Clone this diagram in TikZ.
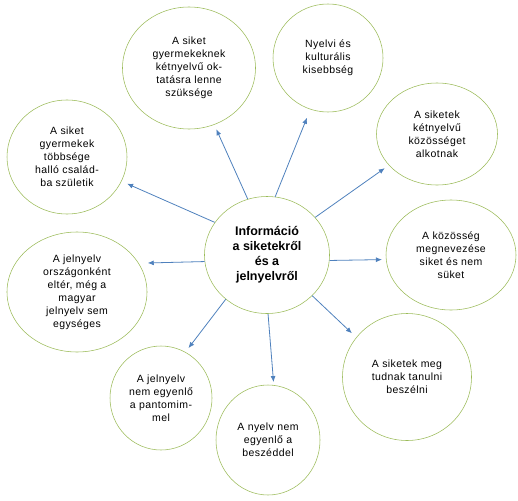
\documentclass[tikz,border=0pt]{standalone}
\usepackage{fontspec}
\setmainfont{Liberation Sans}
\usetikzlibrary{shapes.geometric, arrows.meta}
\definecolor{zold}{RGB}{155,187,89}
\definecolor{kek}{RGB}{79,129,189}
\tikzset{
  kor/.style={ellipse, draw=zold, line width=0.55pt, inner sep=0pt, align=center,
              font=\fontsize{10.5}{13}\selectfont\addfontfeatures{LetterSpace=4}},
  kozep/.style={kor, font=\fontsize{12.5}{15}\selectfont\bfseries},
  nyil/.style={-{Latex[length=6pt, width=5pt]}, kek, line width=0.8pt, shorten >=5pt}
}

\begin{document}
\begin{tikzpicture}[x=1pt, y=-1pt]
    \useasboundingbox (0,0) rectangle (518,500);
    \node[kozep, minimum width=125pt, minimum height=117pt] (info) at (267,255)
      {Információ\\a siketekről\\és a\\jelnyelvről};
    \node[kor, minimum width=133pt, minimum height=122pt] (oktatas) at (189,68)
      {A siket\\gyermekeknek\\kétnyelvű ok-\\tatásra lenne\\szüksége};
    \node[kor, minimum width=110pt, minimum height=108pt] (kisebbseg) at (328,58)
      {Nyelvi és\\kulturális\\kisebbség};
    \node[kor, minimum width=121pt, minimum height=102pt] (kozosseg) at (437,134)
      {A siketek\\kétnyelvű\\közösséget\\alkotnak};
    \node[kor, minimum width=120pt, minimum height=114pt] (csalad) at (67,157)
      {A siket\\gyermekek\\többsége\\halló család-\\ba születik};
    \node[kor, minimum width=140pt, minimum height=120pt] (orszag) at (77,292)
      {A jelnyelv\\országonként\\eltér, még a\\magyar\\jelnyelv sem\\egységes};
    \node[kor, minimum width=130pt, minimum height=110pt] (megnevezes) at (451,255)
      {A közösség\\megnevezése\\siket és nem\\süket};
    \node[kor, minimum width=129pt, minimum height=127pt] (beszed) at (407,377)
      {A siketek meg\\tudnak tanulni\\beszélni};
    \node[kor, minimum width=102pt, minimum height=104pt] (pantomim) at (161,398)
      {A jelnyelv\\nem egyenlő\\a pantomim-\\mel};
    \node[kor, minimum width=104pt, minimum height=110pt] (nyelv) at (268,440)
      {A nyelv nem\\egyenlő a\\beszéddel};
    % nyilak a kozepso korbol
    \draw[nyil] (info.109) -- (oktatas.-66);
    \draw[nyil, shorten >=9pt] (info.82) -- (kisebbseg.-109);
    \draw[nyil] (info.38) -- (kozosseg.-147);
    \draw[nyil, shorten >=6pt] (info.148) -- (csalad.-24);
    \draw[nyil, shorten >=9pt] (info.186) -- (orszag.25);
    \draw[nyil, shorten >=4pt] (info.-5) -- (megnevezes.184);
    \draw[nyil, shorten >=6pt] (info.-42) -- (beszed.142);
    \draw[nyil] (info.227) -- (pantomim.62);
    \draw[nyil, shorten >=3pt] (info.271) -- (nyelv.84);
\end{tikzpicture}
\end{document}
